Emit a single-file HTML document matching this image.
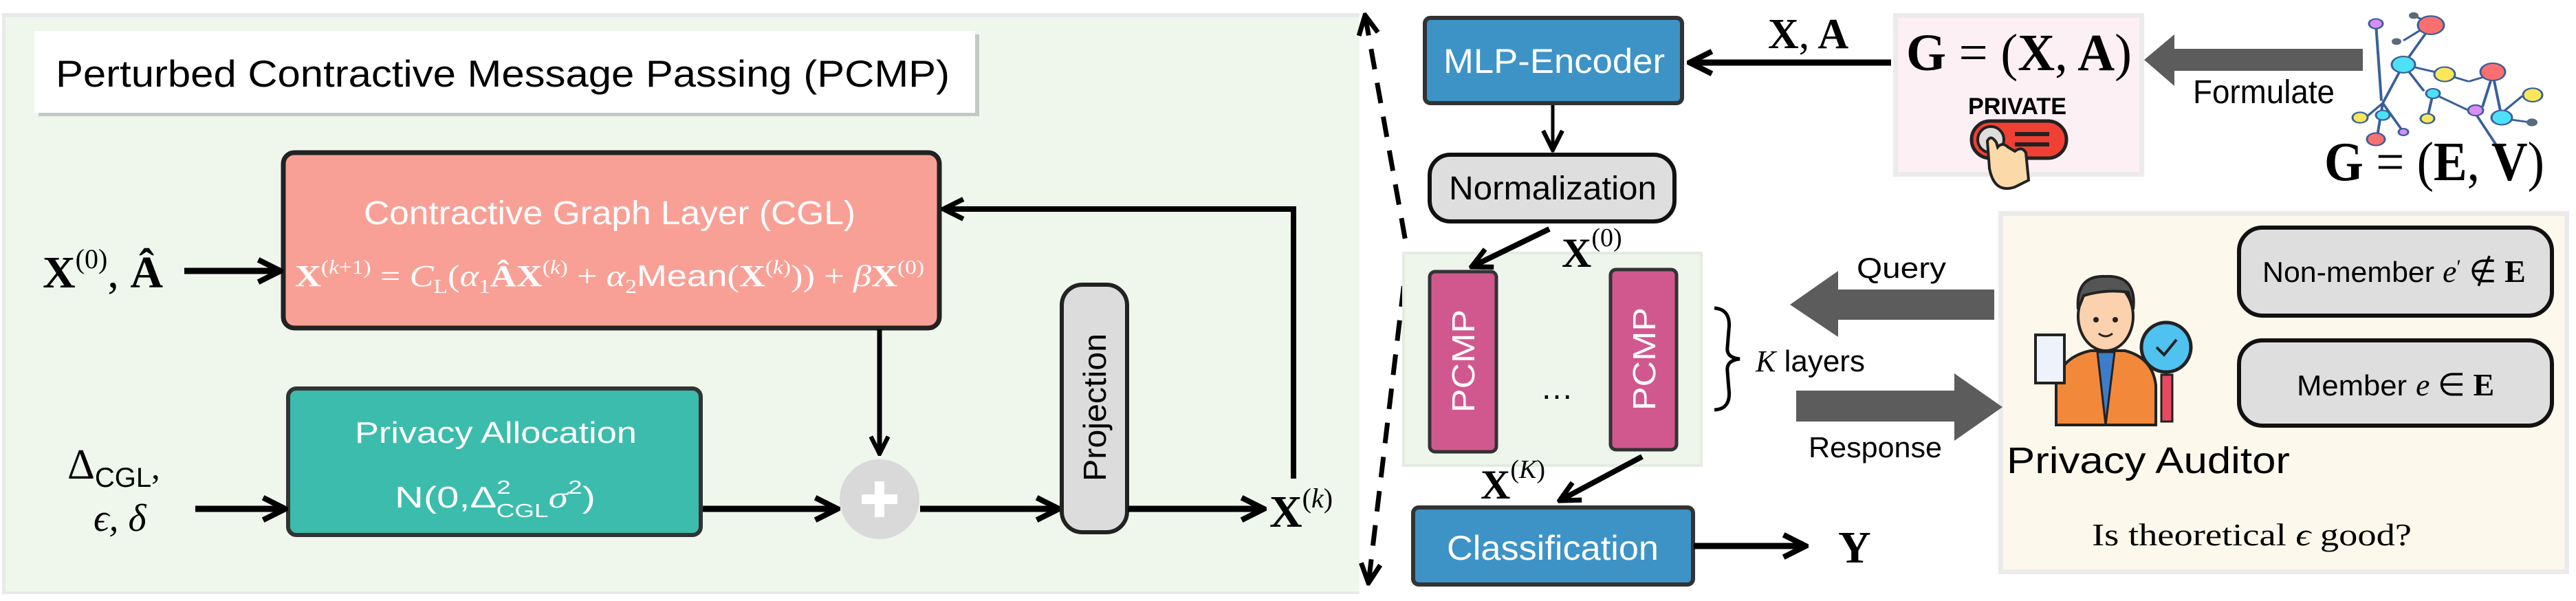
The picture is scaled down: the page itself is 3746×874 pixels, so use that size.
<!DOCTYPE html>
<html><head><meta charset="utf-8"><style>
html,body{margin:0;padding:0;background:#fff;}
svg{display:block;}
.s{font-family:"Liberation Sans",sans-serif;}
.m{font-family:"Liberation Serif",serif;}
</style></head><body>
<svg width="3746" height="874" viewBox="0 0 3746 874" xmlns="http://www.w3.org/2000/svg">
<defs>
<marker id="ah" viewBox="0 0 10 10" refX="9" refY="5" markerWidth="4.5" markerHeight="4.5" orient="auto" markerUnits="strokeWidth">
<path d="M1,1 L9,5 L1,9" fill="none" stroke="#000" stroke-width="2"/>
</marker>
<marker id="ahs" viewBox="0 0 10 10" refX="9" refY="5" markerWidth="7" markerHeight="7" orient="auto" markerUnits="strokeWidth">
<path d="M1,1 L9,5 L1,9" fill="none" stroke="#000" stroke-width="1.8"/>
</marker>
<marker id="ahd" viewBox="0 0 10 10" refX="9" refY="5" markerWidth="5" markerHeight="5" orient="auto-start-reverse" markerUnits="strokeWidth">
<path d="M1,1 L9,5 L1,9" fill="none" stroke="#000" stroke-width="2"/>
</marker>
</defs>

<!-- left panel -->
<rect x="3" y="19" width="1974" height="845" fill="#e9e9e9"/>
<rect x="8" y="25" width="1969" height="835" fill="#eff7ec"/>
<rect x="56" y="50" width="1368" height="119" fill="#999" opacity="0.5"/>
<rect x="50" y="45" width="1368" height="119" fill="#fff"/>
<text x="81" y="126" class="s" font-size="55" textLength="1300" lengthAdjust="spacingAndGlyphs">Perturbed Contractive Message Passing (PCMP)</text>

<!-- CGL -->
<rect x="412" y="222" width="954" height="255" rx="16" fill="#f9a096" stroke="#222" stroke-width="7"/>
<text x="529" y="326" class="s" font-size="48" fill="#fff" textLength="715" lengthAdjust="spacingAndGlyphs">Contractive Graph Layer (CGL)</text>
<text x="429" y="416" class="m" font-size="44" fill="#fff" textLength="915" lengthAdjust="spacingAndGlyphs"><tspan font-weight="bold">X</tspan><tspan font-size="28" dy="-18">(<tspan font-style="italic">k</tspan>+1)</tspan><tspan dy="18"> = </tspan><tspan font-style="italic">C</tspan><tspan font-size="28" dy="10">L</tspan><tspan dy="-10">(</tspan><tspan font-style="italic">α</tspan><tspan font-size="28" dy="10">1</tspan><tspan dy="-10" font-weight="bold">ÂX</tspan><tspan font-size="28" dy="-18">(<tspan font-style="italic">k</tspan>)</tspan><tspan dy="18"> + </tspan><tspan font-style="italic">α</tspan><tspan font-size="28" dy="10">2</tspan><tspan dy="-10" class="s">Mean</tspan><tspan>(</tspan><tspan font-weight="bold">X</tspan><tspan font-size="28" dy="-18">(<tspan font-style="italic">k</tspan>)</tspan><tspan dy="18">)) + </tspan><tspan font-style="italic">β</tspan><tspan font-weight="bold">X</tspan><tspan font-size="28" dy="-18">(0)</tspan></text>

<!-- input X0,A -->
<text x="62" y="418" class="m" font-size="66" font-weight="bold"><tspan>X</tspan><tspan font-size="40" font-weight="normal" dy="-28">(0)</tspan><tspan dy="28" font-weight="normal">, </tspan><tspan>Â</tspan></text>
<line x1="268" y1="394" x2="408" y2="394" stroke="#000" stroke-width="9" marker-end="url(#ah)"/>

<!-- Privacy allocation -->
<rect x="419" y="565" width="600" height="213" rx="12" fill="#3bbcad" stroke="#333" stroke-width="6"/>
<text x="516" y="644" class="s" font-size="44" fill="#fff" textLength="410" lengthAdjust="spacingAndGlyphs">Privacy Allocation</text>
<text x="574" y="738" class="s" font-size="44" fill="#fff" textLength="292" lengthAdjust="spacingAndGlyphs">N(0,Δ<tspan font-size="28" dy="-20">2</tspan><tspan font-size="28" dx="-16" dy="34">CGL</tspan><tspan dy="-14" class="m" font-style="italic">σ</tspan><tspan font-size="28" dy="-20">2</tspan><tspan dy="20">)</tspan></text>

<text x="98" y="696" class="m" font-size="62">Δ<tspan class="s" font-size="40" dy="12">CGL</tspan><tspan dy="-12" font-size="50">,</tspan></text>
<text x="136" y="772" class="m" font-size="56" font-style="italic">ϵ, δ</text>
<line x1="284" y1="740" x2="415" y2="740" stroke="#000" stroke-width="9" marker-end="url(#ah)"/>

<!-- plus -->
<line x1="1279" y1="479" x2="1279" y2="660" stroke="#000" stroke-width="7" marker-end="url(#ah)"/>
<circle cx="1279" cy="726" r="58" fill="#d9d9d9"/>
<rect x="1272" y="700" width="14" height="52" fill="#fff"/>
<rect x="1253" y="719" width="52" height="14" fill="#fff"/>
<line x1="1022" y1="740" x2="1218" y2="740" stroke="#000" stroke-width="9" marker-end="url(#ah)"/>
<line x1="1338" y1="740" x2="1540" y2="740" stroke="#000" stroke-width="9" marker-end="url(#ah)"/>

<!-- projection -->
<rect x="1544" y="414" width="95" height="360" rx="30" fill="#dcdcdc" stroke="#222" stroke-width="6"/>
<text transform="translate(1608,700) rotate(-90)" class="s" font-size="46" textLength="215" lengthAdjust="spacingAndGlyphs">Projection</text>
<line x1="1640" y1="740" x2="1838" y2="740" stroke="#000" stroke-width="9" marker-end="url(#ah)"/>
<text x="1846" y="766" class="m" font-size="66" font-weight="bold">X<tspan font-size="40" font-weight="normal" dy="-28">(<tspan font-style="italic">k</tspan>)</tspan></text>
<polyline points="1881,696 1881,304 1372,304" fill="none" stroke="#000" stroke-width="8" marker-end="url(#ah)"/>

<!-- dashed -->
<polyline points="1985,22 2047,368 1990,848" fill="none" stroke="#000" stroke-width="7" stroke-dasharray="30,20" marker-start="url(#ahd)" marker-end="url(#ahd)"/>

<!-- MLP encoder -->
<rect x="2072" y="26" width="374" height="124" rx="8" fill="#3d93c6" stroke="#333" stroke-width="6"/>
<text x="2099" y="106" class="s" font-size="50" fill="#fff" textLength="322" lengthAdjust="spacingAndGlyphs">MLP-Encoder</text>
<line x1="2258" y1="153" x2="2258" y2="218" stroke="#000" stroke-width="5" marker-end="url(#ahs)"/>
<rect x="2079" y="225" width="356" height="97" rx="30" fill="#dedede" stroke="#111" stroke-width="6"/>
<text x="2107" y="290" class="s" font-size="48" textLength="302" lengthAdjust="spacingAndGlyphs">Normalization</text>

<!-- PCMP group -->
<rect x="2041" y="368" width="433" height="309" fill="#eef6ec" stroke="#e4ece2" stroke-width="4"/>
<line x1="2253" y1="333" x2="2140" y2="388" stroke="#000" stroke-width="8" marker-end="url(#ah)"/>
<text x="2271" y="388" class="m" font-size="60" font-weight="bold">X<tspan font-size="38" font-weight="normal" dy="-30">(0)</tspan></text>
<rect x="2079" y="395" width="97" height="262" rx="8" fill="#d1588f" stroke="#333" stroke-width="5"/>
<rect x="2342" y="392" width="96" height="262" rx="8" fill="#d1588f" stroke="#333" stroke-width="5"/>
<text transform="translate(2144,600) rotate(-90)" class="s" font-size="46" fill="#fff" textLength="150" lengthAdjust="spacingAndGlyphs">PCMP</text>
<text transform="translate(2407,597) rotate(-90)" class="s" font-size="46" fill="#fff" textLength="150" lengthAdjust="spacingAndGlyphs">PCMP</text>
<text x="2240" y="580" class="s" font-size="48">…</text>
<path d="M2493,448 Q2518,450 2514,480 L2512,505 Q2510,520 2530,522 Q2510,524 2512,540 L2514,565 Q2518,595 2493,596" fill="none" stroke="#000" stroke-width="5"/>
<text x="2553" y="540" class="m" font-size="44"><tspan font-style="italic">K</tspan><tspan class="s"> layers</tspan></text>
<text x="2153" y="725" class="m" font-size="60" font-weight="bold">X<tspan font-size="38" font-weight="normal" dy="-30">(<tspan font-style="italic">K</tspan>)</tspan></text>
<line x1="2388" y1="664" x2="2268" y2="728" stroke="#000" stroke-width="8" marker-end="url(#ah)"/>

<!-- classification -->
<rect x="2055" y="738" width="407" height="112" rx="8" fill="#3d93c6" stroke="#333" stroke-width="6"/>
<text x="2104" y="814" class="s" font-size="50" fill="#fff" textLength="308" lengthAdjust="spacingAndGlyphs">Classification</text>
<line x1="2463" y1="794" x2="2626" y2="794" stroke="#000" stroke-width="9" marker-end="url(#ah)"/>
<text x="2673" y="818" class="m" font-size="66" font-weight="bold">Y</text>

<!-- X,A arrow -->
<line x1="2750" y1="91" x2="2457" y2="91" stroke="#000" stroke-width="9" marker-end="url(#ah)"/>
<text x="2571" y="70" class="m" font-size="62" font-weight="bold">X<tspan font-weight="normal">,</tspan> A</text>

<!-- G=(X,A) box -->
<rect x="2753" y="19" width="365" height="238" fill="#ebebeb"/>
<rect x="2760" y="26" width="351" height="224" fill="#fdf0f5"/>
<text x="2772" y="102" class="m" font-size="76" font-weight="bold" textLength="328" lengthAdjust="spacingAndGlyphs">G <tspan font-weight="normal">= (</tspan>X<tspan font-weight="normal">,</tspan> A<tspan font-weight="normal">)</tspan></text>
<text x="2862" y="166" class="s" font-size="34" font-weight="bold" textLength="143" lengthAdjust="spacingAndGlyphs">PRIVATE</text>
<rect x="2867" y="176" width="138" height="54" rx="27" fill="#f04034" stroke="#222" stroke-width="5"/>
<circle cx="2895" cy="203" r="19" fill="#ddd" stroke="#222" stroke-width="4"/>
<rect x="2930" y="192" width="50" height="6" fill="#222"/><rect x="2930" y="207" width="50" height="6" fill="#222"/>
<path d="M2890,205 L2893,245 Q2900,282 2930,272 L2950,262 L2946,222 Q2940,212 2930,220 L2920,214 Q2912,206 2905,214 L2903,207 Q2895,195 2890,205Z" fill="#fbd9a8" stroke="#222" stroke-width="4"/>

<!-- Formulate arrow -->
<polygon points="3436,71 3162,71 3162,50 3118,87 3162,125 3162,103 3436,103" fill="#5c5c5c"/>
<text x="3189" y="150" class="s" font-size="48" textLength="206" lengthAdjust="spacingAndGlyphs">Formulate</text>

<!-- network -->
<g transform="translate(0,3) scale(1,0.7)">
<g stroke="#3a5f9a" stroke-width="4" fill="none">
<path d="M3455,45 L3463,205 M3535,50 L3495,130 M3495,130 L3465,210 M3495,130 L3555,150 M3495,130 L3525,185 M3555,150 L3590,165 M3590,165 L3625,150 M3625,150 L3638,240 M3538,190 L3600,232 M3600,232 L3643,325 M3465,210 L3495,270 M3465,210 L3440,240 M3630,240 L3668,195 M3630,240 L3680,250 M3465,210 L3455,295 M3510,28 L3535,45 M3535,45 L3495,80 M3538,190 L3530,240 M3625,150 L3610,218"/>
</g>
<circle cx="3455" cy="45" r="10" fill="#d98df2" stroke="#3a5f9a" stroke-width="3"/>
<circle cx="3535" cy="48" r="19" fill="#fa7070" stroke="#3a5f9a" stroke-width="3"/>
<circle cx="3495" cy="130" r="17" fill="#4de1f7" stroke="#3a5f9a" stroke-width="3"/>
<circle cx="3555" cy="150" r="15" fill="#fbe85a" stroke="#3a5f9a" stroke-width="3"/>
<circle cx="3625" cy="145" r="18" fill="#fa7070" stroke="#3a5f9a" stroke-width="3"/>
<circle cx="3538" cy="190" r="10" fill="#4de1f7" stroke="#3a5f9a" stroke-width="3"/>
<circle cx="3600" cy="225" r="11" fill="#d98df2" stroke="#3a5f9a" stroke-width="3"/>
<circle cx="3638" cy="240" r="15" fill="#4de1f7" stroke="#3a5f9a" stroke-width="3"/>
<circle cx="3683" cy="193" r="14" fill="#fbe85a" stroke="#3a5f9a" stroke-width="3"/>
<circle cx="3465" cy="235" r="10" fill="#4de1f7" stroke="#3a5f9a" stroke-width="3"/>
<circle cx="3432" cy="240" r="11" fill="#fbe85a" stroke="#3a5f9a" stroke-width="3"/>
<circle cx="3455" cy="285" r="13" fill="#fa7070" stroke="#3a5f9a" stroke-width="3"/>
<circle cx="3530" cy="242" r="10" fill="#fbe85a" stroke="#3a5f9a" stroke-width="3"/>
<circle cx="3495" cy="270" r="7" fill="#d98df2" stroke="#3a5f9a" stroke-width="3"/>
<circle cx="3510" cy="28" r="7" fill="#5a6a7a"/><circle cx="3485" cy="82" r="7" fill="#5a6a7a"/><circle cx="3682" cy="250" r="8" fill="#5a6a7a"/>
</g>
<text x="3380" y="262" class="m" font-size="80" font-weight="bold" textLength="320" lengthAdjust="spacingAndGlyphs">G <tspan font-weight="normal">= (</tspan>E<tspan font-weight="normal">,</tspan> V<tspan font-weight="normal">)</tspan></text>

<!-- auditor panel -->
<rect x="2906" y="307" width="830" height="528" fill="#ebebeb"/>
<rect x="2913" y="314" width="816" height="514" fill="#fdf8ec"/>
<rect x="3256" y="331" width="455" height="128" rx="34" fill="#dedede" stroke="#111" stroke-width="6"/>
<text x="3290" y="410" class="s" font-size="42" textLength="250" lengthAdjust="spacingAndGlyphs">Non-member</text>
<text x="3552" y="410" class="m" font-size="46"><tspan font-style="italic">e</tspan><tspan font-size="30" dy="-12">′</tspan><tspan dy="12"> ∉ </tspan><tspan font-weight="bold">E</tspan></text>
<rect x="3256" y="495" width="455" height="124" rx="34" fill="#dedede" stroke="#111" stroke-width="6"/>
<text x="3340" y="575" class="s" font-size="42" textLength="160" lengthAdjust="spacingAndGlyphs">Member</text>
<text x="3513" y="575" class="m" font-size="46"><tspan font-style="italic">e</tspan> ∈ <tspan font-weight="bold">E</tspan></text>

<!-- person -->
<path d="M2990,618 L2990,560 Q2995,520 3040,510 L3090,510 Q3130,520 3135,560 L3135,618Z" fill="#f2883a" stroke="#222" stroke-width="4"/>
<path d="M3050,512 L3062,618 L3075,512Z" fill="#3d7dc8" stroke="#222" stroke-width="3"/>
<ellipse cx="3062" cy="460" rx="40" ry="50" fill="#fcd1ad" stroke="#222" stroke-width="4"/>
<path d="M3022,450 Q3018,400 3062,402 Q3108,400 3102,450 L3095,425 Q3062,420 3030,430Z" fill="#555" stroke="#222" stroke-width="4"/>
<circle cx="3048" cy="465" r="4" fill="#222"/><circle cx="3076" cy="465" r="4" fill="#222"/>
<path d="M3052,485 Q3062,493 3072,485" fill="none" stroke="#222" stroke-width="3"/>
<rect x="2960" y="487" width="42" height="70" fill="#eef3fb" stroke="#222" stroke-width="4"/>
<circle cx="3150" cy="505" r="36" fill="#4fc2f0" stroke="#222" stroke-width="5"/>
<path d="M3136,505 L3147,516 L3165,494" fill="none" stroke="#222" stroke-width="4"/>
<rect x="3143" y="545" width="16" height="68" fill="#e94960" stroke="#222" stroke-width="3"/>
<text x="2918" y="688" class="s" font-size="54" textLength="412" lengthAdjust="spacingAndGlyphs">Privacy Auditor</text>
<text x="3042" y="793" class="m" font-size="46" textLength="465" lengthAdjust="spacingAndGlyphs">Is theoretical <tspan font-style="italic">ϵ</tspan> good?</text>

<!-- Query / Response arrows -->
<polygon points="2900,421 2673,421 2673,394 2603,443 2673,490 2673,465 2900,465" fill="#5c5c5c"/>
<text x="2700" y="404" class="s" font-size="42" textLength="130" lengthAdjust="spacingAndGlyphs">Query</text>
<polygon points="2612,568 2842,568 2842,543 2912,592 2842,641 2842,613 2612,613" fill="#5c5c5c"/>
<text x="2630" y="665" class="s" font-size="42" textLength="194" lengthAdjust="spacingAndGlyphs">Response</text>
</svg>
</body></html>
